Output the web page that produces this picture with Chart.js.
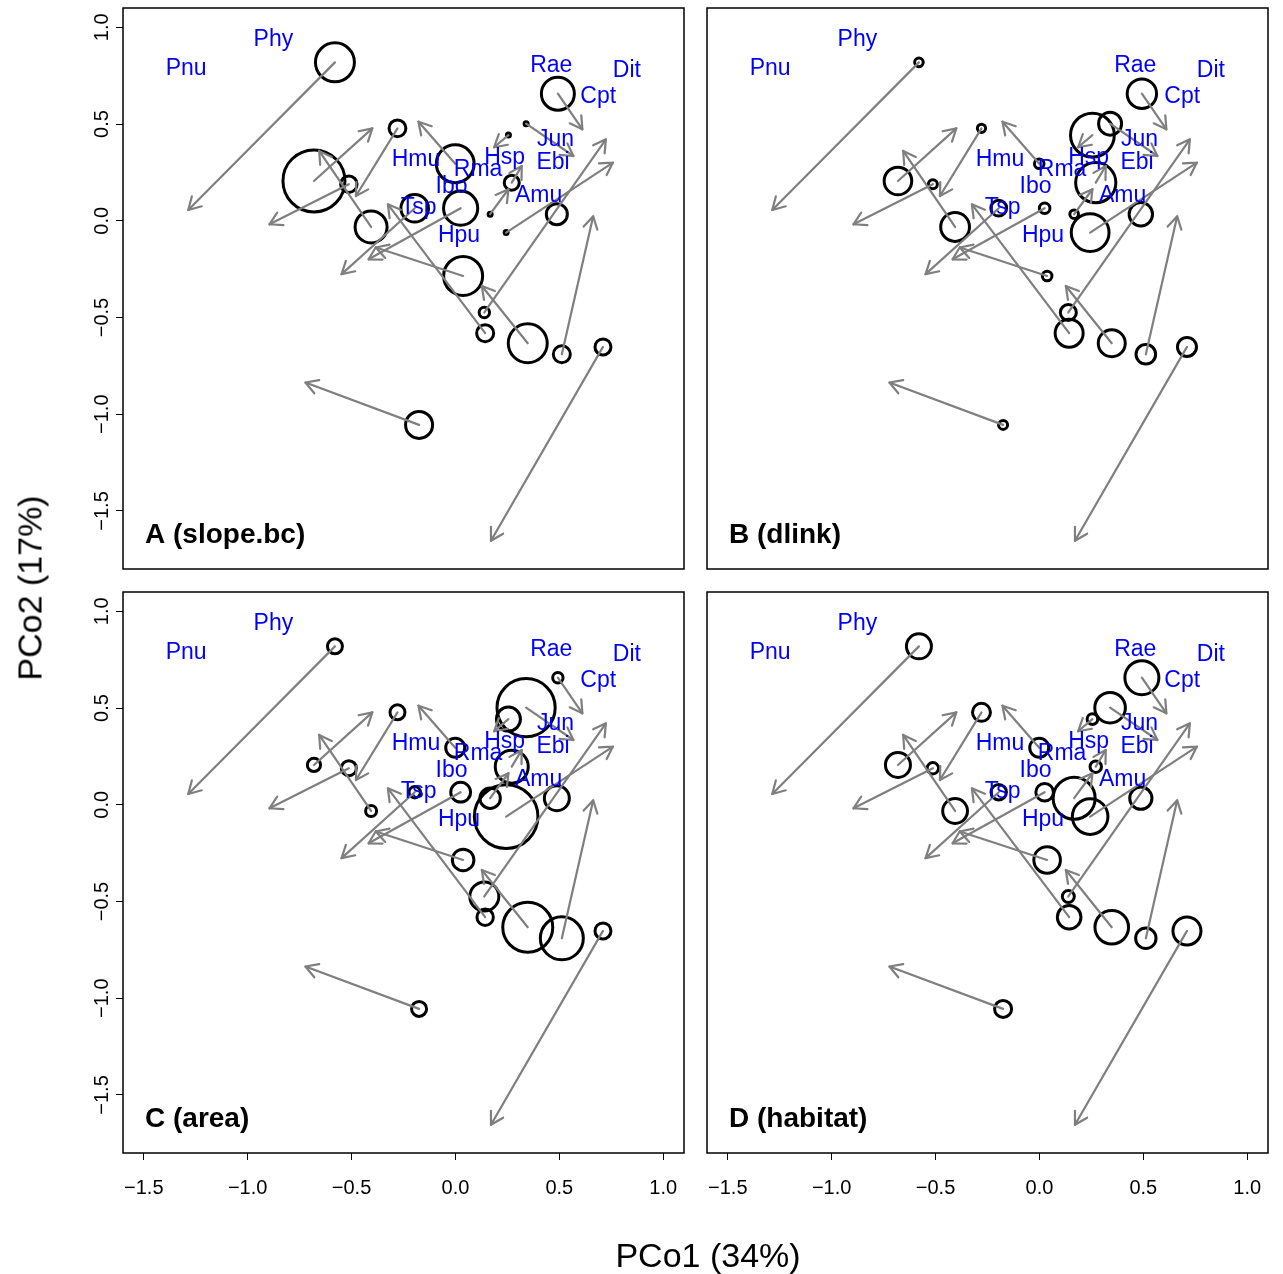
<!DOCTYPE html>
<html>
<head>
<meta charset="utf-8">
<script src="https://cdn.jsdelivr.net/npm/chart.js@4.4.1/dist/chart.umd.min.js"></script>
<style>
  body { margin: 0; background: #fff; width: 1283px; height: 1274px; position: relative; overflow: hidden;
         font-family: "Liberation Sans", Arial, sans-serif; }
  canvas { position: absolute; }
  .title { position: absolute; font-size: 34px; color: #000; white-space: nowrap; transform: translate(-50%, -50%); }
</style>
</head>
<body>
<canvas id="cA" width="695" height="582" style="left:0;top:0"></canvas>
<canvas id="cB" width="588" height="582" style="left:695px;top:0"></canvas>
<canvas id="cC" width="695" height="692" style="left:0;top:582px"></canvas>
<canvas id="cD" width="608" height="692" style="left:675px;top:582px"></canvas>
<div class="title" style="left:708px;top:1255px">PCo1 (34%)</div>
<div class="title" style="left:30px;top:588px;transform:translate(-50%,-50%) rotate(-90deg)">PCo2 (17%)</div>
<script>
// species labels (blue text)
const species  = ['Pnu', 'Phy', 'Rae', 'Dit', 'Cpt', 'Jun', 'Hmu', 'Hsp', 'Ebi', 'Rma', 'Ibo', 'Amu', 'Tsp', 'Hpu'];
const speciesX = [-1.296, -0.876, 0.461, 0.825, 0.687, 0.482, -0.190, 0.237, 0.470, 0.109, -0.019, 0.400, -0.177, 0.017];
const speciesY = [0.786, 0.937, 0.800, 0.777, 0.643, 0.421, 0.318, 0.324, 0.300, 0.264, 0.178, 0.132, 0.070, -0.079];

// sites: start (circle) and end (arrow tip)
const xStart = [-0.580, -0.681, -0.513, -0.279, -0.406, -0.196, -0.001, 0.025, 0.037, 0.255, 0.340,
                0.493, 0.271, 0.167, 0.244, 0.488, 0.139, 0.143, 0.348, 0.512, 0.710, -0.175];
const yStart = [0.819, 0.206, 0.189, 0.478, -0.032, 0.065, 0.295, 0.065, -0.285, 0.443, 0.502,
                0.657, 0.197, 0.034, -0.061, 0.034, -0.474, -0.581, -0.633, -0.690, -0.652, -1.055];
const xEnd   = [-1.286, -0.400, -0.895, -0.479, -0.656, -0.548, -0.178, -0.418, -0.383, 0.186, 0.568,
                0.611, 0.319, 0.255, 0.758, null, 0.724, -0.325, 0.127, 0.663, 0.171, -0.722];
const yEnd   = [0.056, 0.478, -0.018, 0.128, 0.361, -0.276, 0.512, -0.199, -0.138, 0.380, 0.335,
                0.473, 0.283, 0.163, 0.301, null, 0.421, 0.085, -0.337, 0.023, -1.654, -0.836];

// circle sizes per predictor
const sizeSlope   = [19.5, 31, 8.2, 8.4, 16, 13.8, 18.9, 17.1, 19.5, 2, 2, 16.5, 7.5, 2, 2, 10.5, 5.2, 8.5, 19.5, 8.5, 8, 13.5];
const sizeDlink   = [4.3, 13.8, 4.5, 4.1, 14.4, 7.9, 4.8, 5.3, 4.8, 21.9, 11.5, 14.7, 20.1, 4.3, 18.9, 11.7, 8, 14, 13.5, 9.8, 9.5, 4.5];
const sizeArea    = [7.5, 6.6, 7.5, 7.5, 5.5, 5.7, 9.5, 9.9, 10.8, 12, 29.1, 5.2, 16.5, 10.2, 31.8, 12.5, 14.5, 8.2, 25, 21.5, 8, 7.5];
const sizeHabitat = [12.5, 12.5, 5.7, 9, 12.4, 7.7, 9.5, 8.8, 13.3, 5.3, 15.3, 17, 5.7, 21, 17.8, 11.1, 6, 11.8, 16.8, 10.2, 14, 8.5];

const xTicks = [-1.5, -1.0, -0.5, 0.0, 0.5, 1.0];
const yTicks = [-1.5, -1.0, -0.5, 0.0, 0.5, 1.0];

const FONT = '"Liberation Sans", Arial, sans-serif';
const ARROW = '#7f7f7f';

const fmt = v => (v < 0 ? '\u2212' : '') + Math.abs(v).toFixed(1);

const overlay = {
  id: 'overlay',
  afterDatasetsDraw(chart, args, opts) {
    const ctx = chart.ctx, a = chart.chartArea;
    const xs = chart.scales.x, ys = chart.scales.y;
    ctx.save();
    // arrow heads
    ctx.strokeStyle = ARROW;
    ctx.lineWidth = 2.2;
    ctx.lineCap = 'round';
    chart.data.datasets.forEach((ds, i) => {
      if (ds.type !== 'line') return;
      const pts = chart.getDatasetMeta(i).data;
      const p0 = pts[0], p1 = pts[1];
      const ang = Math.atan2(p1.y - p0.y, p1.x - p0.x);
      ctx.beginPath();
      [-1, 1].forEach(s => {
        ctx.moveTo(p1.x - 14 * Math.cos(ang + s * Math.PI / 6), p1.y - 14 * Math.sin(ang + s * Math.PI / 6));
        ctx.lineTo(p1.x, p1.y);
      });
      ctx.stroke();
    });
    // species labels
    ctx.fillStyle = '#0000ff';
    ctx.font = '23px ' + FONT;
    ctx.textAlign = 'center';
    ctx.textBaseline = 'middle';
    species.forEach((s, i) => {
      ctx.fillText(s, xs.getPixelForValue(speciesX[i]), ys.getPixelForValue(speciesY[i]));
    });
    // panel letter
    ctx.fillStyle = '#000';
    ctx.font = 'bold 28px ' + FONT;
    ctx.textAlign = 'left';
    ctx.fillText(opts.letter, a.left + 22, a.bottom - 34);
    // box
    ctx.strokeStyle = '#000';
    ctx.lineWidth = 1.5;
    ctx.strokeRect(a.left, a.top, a.right - a.left, a.bottom - a.top);
    ctx.restore();
  }
};

function makePanel(id, letter, sizes, showY, showX, padding) {
  const datasets = [{
    type: 'bubble',
    data: xStart.map((x, i) => ({ x: x, y: yStart[i], r: sizes[i] })),
    backgroundColor: 'rgba(0,0,0,0)',
    borderColor: '#000',
    borderWidth: 3,
    order: 2
  }];
  xStart.forEach((x, i) => {
    if (xEnd[i] === null) return;
    datasets.push({
      type: 'line',
      data: [{ x: x, y: yStart[i] }, { x: xEnd[i], y: yEnd[i] }],
      borderColor: ARROW,
      borderWidth: 2.2,
      borderCapStyle: 'round',
      pointRadius: 0,
      fill: false,
      order: 1
    });
  });

  new Chart(document.getElementById(id), {
    type: 'scatter',
    data: { datasets: datasets },
    options: {
      responsive: false,
      animation: false,
      events: [],
      layout: { padding: padding, autoPadding: false },
      plugins: {
        legend: { display: false },
        tooltip: { enabled: false },
        overlay: { letter: letter }
      },
      scales: {
        x: {
          type: 'linear',
          min: -1.6, max: 1.1,
          display: showX,
          afterBuildTicks: s => { s.ticks = xTicks.map(v => ({ value: v })); },
          afterFit: s => { s.height = showX ? 121 : 0; },
          grid: { display: true, drawOnChartArea: false, drawTicks: true, tickLength: 7, color: '#000', lineWidth: 1 },
          border: { display: false },
          ticks: { autoSkip: false, maxRotation: 0, padding: 16, color: '#000',
                   font: { size: 20, family: FONT }, callback: v => fmt(v) }
        },
        y: {
          type: 'linear',
          min: -1.8, max: 1.1,
          display: showY,
          afterBuildTicks: s => { s.ticks = yTicks.map(v => ({ value: v })); },
          afterFit: s => { s.width = showY ? 123 : 0; },
          grid: { display: true, drawOnChartArea: false, drawTicks: true, tickLength: 7, color: '#000', lineWidth: 1 },
          border: { display: false },
          ticks: { autoSkip: false, minRotation: 90, maxRotation: 90, crossAlign: 'center', padding: -6,
                   color: '#000', font: { size: 20, family: FONT }, callback: v => fmt(v) }
        }
      }
    },
    plugins: [overlay]
  });
}

makePanel('cA', 'A (slope.bc)', sizeSlope,   true,  false, { top: 8,  right: 11, bottom: 13, left: 0 });
makePanel('cB', 'B (dlink)',    sizeDlink,   false, false, { top: 8,  right: 15, bottom: 13, left: 12 });
makePanel('cC', 'C (area)',     sizeArea,    true,  true,  { top: 10, right: 11, bottom: 0,  left: 0 });
makePanel('cD', 'D (habitat)',  sizeHabitat, false, true,  { top: 10, right: 15, bottom: 0,  left: 32 });
</script>
</body>
</html>
